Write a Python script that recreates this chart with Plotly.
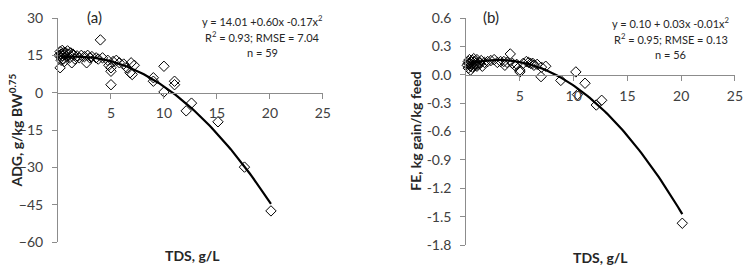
import plotly.graph_objects as go
from plotly.subplots import make_subplots

# ---- data ----
tds_a = [0.1, 0.2, 0.2, 0.3, 0.3, 0.4, 0.4, 0.5, 0.5, 0.6, 0.6, 0.7, 0.8, 0.9, 1.0, 1.1,
         1.2, 1.3, 1.4, 1.5, 1.6, 1.8, 2.0, 2.2, 2.5, 2.7, 2.8, 3.0, 3.2, 3.6, 3.8, 4.0,
         4.2, 4.7, 4.8, 5.0, 5.0, 5.0, 5.2, 5.5, 5.8, 6.2, 6.5, 6.8, 6.9, 7.0, 7.2, 9.0,
         9.0, 10.0, 10.0, 11.0, 11.0, 12.1, 12.6, 15.1, 17.6, 20.1, 0.3]
adg = [15.0, 16.5, 10.0, 15.5, 13.0, 14.8, 17.0, 16.0, 13.5, 15.2, 12.5, 16.2, 14.5, 16.8, 15.5, 14.0,
       16.0, 12.0, 15.5, 15.0, 13.5, 14.8, 14.0, 15.0, 14.5, 12.0, 15.0, 14.0, 14.5, 14.0, 13.5, 21.2,
       14.0, 13.0, 11.0, 3.2, 8.6, 10.0, 12.5, 13.0, 12.0, 11.5, 10.0, 8.0, 12.0, 7.3, 11.0, 4.6,
       6.0, 10.6, 0.3, 4.6, 3.2, -7.3, -4.2, -11.7, -29.9, -47.5, 14.2]

tds_b = [0.1, 0.2, 0.2, 0.3, 0.3, 0.4, 0.5, 0.5, 0.6, 0.7, 0.8, 0.9, 1.0, 1.1, 1.2, 1.4,
         1.5, 1.7, 2.0, 2.3, 2.6, 2.9, 3.2, 3.6, 3.8, 4.1, 4.3, 4.7, 5.0, 5.0, 5.3, 5.6,
         6.0, 6.3, 6.6, 6.96, 7.0, 7.4, 8.8, 10.2, 10.35, 11.05, 12.1, 12.6, 20.1, 0.4,
         0.6, 0.9, 1.3, 0.2, 0.7, 3.5, 4.6, 5.8, 6.2, 1.0]
fe = [0.10, 0.14, 0.07, 0.12, 0.16, 0.09, 0.13, 0.11, 0.15, 0.10, 0.14, 0.12, 0.16, 0.11, 0.13, 0.15,
      0.09, 0.13, 0.14, 0.15, 0.16, 0.13, 0.14, 0.10, 0.13, 0.22, 0.12, 0.11, 0.03, 0.05, 0.12, 0.14,
      0.12, 0.10, 0.11, -0.02, 0.08, 0.09, -0.06, 0.03, -0.21, -0.09, -0.32, -0.27, -1.57, 0.05,
      0.08, 0.10, 0.12, 0.12, 0.17, 0.14, 0.09, 0.13, 0.12, 0.09]

# quadratic trend-line coefficients (c0, c1, c2) matched to the drawn curves
coef_a = [14.01, 0.60, -0.175]
coef_b = [0.105, 0.034, -0.0056]
curve_x = [0.3 + i * 0.2 for i in range(100)]  # 0.3 .. 20.1

eq_a = ["y = 14.01 +0.60x -0.17x<sup>2</sup>", "R<sup>2</sup> = 0.93; RMSE = 7.04", "n = 59"]
eq_b = ["y = 0.10 + 0.03x -0.01x<sup>2</sup>", "R<sup>2</sup> = 0.95; RMSE = 0.13", "n = 56"]

xticks = [5, 10, 15, 20, 25]
yticks_a = [30, 15, 0, -15, -30, -45, -60]
yticks_b = [0.6, 0.3, 0.0, -0.3, -0.6, -0.9, -1.2, -1.5, -1.8]

FONT = "Lato"
TXT = "#404040"
AX = "#8c8c8c"

W, H = 752, 269
ml, mr, mt, mb = 58, 9, 16, 24

fig = make_subplots(rows=1, cols=2)

def quad(c, xs):
    return [c[0] + c[1] * x + c[2] * x * x for x in xs]

for col, (xs, ys, cf) in enumerate([(tds_a, adg, coef_a), (tds_b, fe, coef_b)], start=1):
    fig.add_trace(go.Scatter(x=xs, y=ys, mode="markers",
                             marker=dict(symbol="diamond-open", size=8, color="black",
                                         line=dict(width=1, color="black")),
                             showlegend=False, hoverinfo="skip", cliponaxis=False), row=1, col=col)
    fig.add_trace(go.Scatter(x=curve_x, y=quad(cf, curve_x), mode="lines",
                             line=dict(color="black", width=2.2), showlegend=False,
                             hoverinfo="skip"), row=1, col=col)

pw = W - ml - mr
ph = H - mt - mb
# pixel positions of the plot areas
ax_a = (58, 326)
ax_b = (471, 743)
dom_x1 = [(ax_a[0] - ml) / pw, (ax_a[1] - ml) / pw]
dom_x2 = [(ax_b[0] - ml) / pw, (ax_b[1] - ml) / pw]
dom_y1 = [(H - mb - 242) / ph, 1.0]
dom_y2 = [0.0, 1.0]

def zero_pos(dom, lo, hi):
    return dom[0] + (0 - lo) / (hi - lo) * (dom[1] - dom[0])

common_x = dict(range=[0, 25], tickvals=xticks, ticks="outside", ticklen=5, tickcolor=AX,
                showline=True, linecolor=AX, linewidth=1, showgrid=False, zeroline=False,
                ticklabelstandoff=3,
                tickfont=dict(family=FONT, size=14, color=TXT), anchor="free")
common_y = dict(ticks="outside", ticklen=5, tickcolor=AX, showline=True, linecolor=AX,
                showgrid=False, zeroline=False, ticklabelstandoff=6,
                tickfont=dict(family=FONT, size=14, color=TXT))
fig.update_layout(
    xaxis=dict(domain=dom_x1, position=zero_pos(dom_y1, -60, 30), **common_x),
    xaxis2=dict(domain=dom_x2, position=zero_pos(dom_y2, -1.8, 0.6), **common_x),
    yaxis=dict(domain=dom_y1, range=[-60, 30], tickvals=yticks_a, anchor="x", **common_y),
    yaxis2=dict(domain=dom_y2, range=[-1.8, 0.6], tickvals=yticks_b,
                ticktext=[f"{v:.1f}" for v in yticks_b], anchor="x2", **common_y),
    width=W, height=H, margin=dict(l=ml, r=mr, t=mt, b=mb),
    plot_bgcolor="white", paper_bgcolor="white",
)

def px_to_paper(x, y):
    return (x - ml) / pw, (H - mb - y) / ph

annots = []
def add_text(text, x, y, size, bold=False, angle=0):
    px, py = px_to_paper(x, y)
    annots.append(dict(text=f"<b>{text}</b>" if bold else text, x=px, y=py, xref="paper",
                       yref="paper", showarrow=False, xanchor="center", yanchor="middle",
                       textangle=angle, font=dict(family=FONT, size=size, color="#262626")))

add_text("(a)", 95, 15, 15)
add_text("(b)", 496, 15, 15)
for i, t in enumerate(eq_a):
    add_text(t, 265, 19 + i * 16, 11)
for i, t in enumerate(eq_b):
    add_text(t, 678, 21 + i * 16, 11)
add_text("TDS, g/L", 194, 256, 14, bold=True)
add_text("TDS, g/L", 607, 258, 14, bold=True)
add_text("ADG, g/kg BW<sup>0.75</sup>", 15, 130, 14, bold=True, angle=-90)
add_text("FE, kg gain/kg feed", 419, 130, 14, bold=True, angle=-90)
fig.update_layout(annotations=annots)

fig.write_html("out.html", config={"displayModeBar": False},
               post_script="document.body.style.margin='0';")
